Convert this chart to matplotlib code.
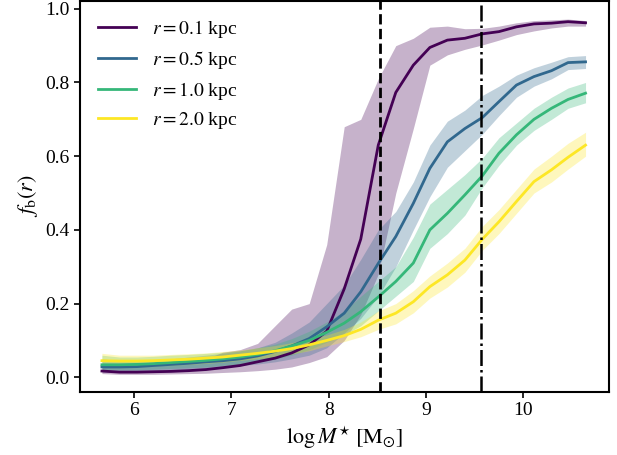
import numpy as np
import matplotlib
matplotlib.use('Agg')
import matplotlib.pyplot as plt

plt.rcParams['font.family'] = 'serif'
plt.rcParams['font.serif'] = ['Liberation Serif', 'DejaVu Serif']
plt.rcParams['mathtext.fontset'] = 'stix'

# bin centres in log stellar mass
log_mstar = [5.67, 5.85, 6.03, 6.20, 6.38, 6.56, 6.74, 6.91, 7.09, 7.27,
             7.45, 7.62, 7.80, 7.98, 8.16, 8.33, 8.51, 8.69, 8.87, 9.04,
             9.22, 9.40, 9.58, 9.75, 9.93, 10.11, 10.29, 10.46, 10.64]

radii = ['0.1', '0.5', '1.0', '2.0']

fb_01 = [0.017, 0.014, 0.014, 0.015, 0.016, 0.018, 0.021, 0.026, 0.032, 0.042,
         0.052, 0.066, 0.088, 0.125, 0.24, 0.375, 0.63, 0.773, 0.847, 0.895,
         0.915, 0.92, 0.932, 0.938, 0.951, 0.959, 0.961, 0.965, 0.962]
fb_01_lo = [0.010, 0.008, 0.008, 0.008, 0.009, 0.010, 0.011, 0.013, 0.015, 0.018,
            0.022, 0.028, 0.040, 0.056, 0.10, 0.17, 0.28, 0.50, 0.675, 0.847,
            0.875, 0.89, 0.902, 0.915, 0.93, 0.94, 0.948, 0.953, 0.953]
fb_01_hi = [0.035, 0.03, 0.03, 0.032, 0.035, 0.04, 0.05, 0.068, 0.075, 0.092,
            0.14, 0.185, 0.20, 0.36, 0.68, 0.70, 0.81, 0.90, 0.92, 0.95,
            0.953, 0.946, 0.947, 0.953, 0.962, 0.968, 0.97, 0.972, 0.968]

fb_05 = [0.028, 0.028, 0.029, 0.032, 0.035, 0.038, 0.042, 0.045, 0.05, 0.058,
         0.07, 0.085, 0.105, 0.137, 0.174, 0.232, 0.309, 0.382, 0.472, 0.567,
         0.639, 0.675, 0.705, 0.748, 0.793, 0.816, 0.832, 0.854, 0.856]
fb_05_lo = [0.015, 0.015, 0.016, 0.018, 0.02, 0.022, 0.025, 0.028, 0.032, 0.036,
            0.042, 0.05, 0.06, 0.08, 0.12, 0.16, 0.22, 0.30, 0.40, 0.49,
            0.57, 0.615, 0.66, 0.71, 0.76, 0.79, 0.81, 0.835, 0.838]
fb_05_hi = [0.05, 0.045, 0.045, 0.048, 0.05, 0.055, 0.06, 0.065, 0.072, 0.08,
            0.095, 0.12, 0.15, 0.2, 0.25, 0.32, 0.40, 0.45, 0.53, 0.63,
            0.695, 0.725, 0.765, 0.79, 0.82, 0.84, 0.855, 0.87, 0.873]

fb_10 = [0.034, 0.034, 0.035, 0.037, 0.04, 0.043, 0.046, 0.05, 0.055, 0.062,
         0.072, 0.085, 0.10, 0.122, 0.147, 0.178, 0.218, 0.26, 0.31, 0.40,
         0.445, 0.495, 0.547, 0.608, 0.658, 0.70, 0.73, 0.754, 0.771]
fb_10_lo = [0.02, 0.02, 0.02, 0.022, 0.024, 0.026, 0.028, 0.032, 0.036, 0.042,
            0.05, 0.06, 0.075, 0.095, 0.115, 0.14, 0.18, 0.22, 0.26, 0.35,
            0.39, 0.44, 0.515, 0.575, 0.63, 0.67, 0.70, 0.73, 0.745]
fb_10_hi = [0.06, 0.055, 0.055, 0.057, 0.06, 0.062, 0.065, 0.068, 0.072, 0.08,
            0.09, 0.105, 0.125, 0.15, 0.18, 0.22, 0.26, 0.30, 0.38, 0.47,
            0.51, 0.55, 0.595, 0.65, 0.69, 0.73, 0.76, 0.785, 0.80]

fb_20 = [0.045, 0.044, 0.044, 0.045, 0.047, 0.049, 0.052, 0.055, 0.06, 0.065,
         0.071, 0.078, 0.088, 0.10, 0.113, 0.13, 0.155, 0.174, 0.205, 0.246,
         0.278, 0.318, 0.375, 0.422, 0.477, 0.531, 0.563, 0.597, 0.630]
fb_20_lo = [0.03, 0.03, 0.03, 0.031, 0.033, 0.035, 0.038, 0.041, 0.046, 0.05,
            0.056, 0.063, 0.072, 0.085, 0.097, 0.11, 0.13, 0.145, 0.175, 0.215,
            0.245, 0.285, 0.345, 0.39, 0.445, 0.50, 0.53, 0.565, 0.60]
fb_20_hi = [0.065, 0.06, 0.06, 0.06, 0.062, 0.064, 0.066, 0.07, 0.074, 0.08,
            0.086, 0.094, 0.104, 0.115, 0.13, 0.15, 0.18, 0.20, 0.235, 0.275,
            0.31, 0.35, 0.41, 0.455, 0.51, 0.565, 0.60, 0.635, 0.665]

medians = [fb_01, fb_05, fb_10, fb_20]
lowers = [fb_01_lo, fb_05_lo, fb_10_lo, fb_20_lo]
uppers = [fb_01_hi, fb_05_hi, fb_10_hi, fb_20_hi]

MSTAR_DASHED = 8.53
MSTAR_DASHDOT = 9.57

fig = plt.figure(figsize=(6.17, 4.55), dpi=100)
ax = fig.add_axes([0.1297, 0.1392, 0.8578, 0.8597])

colors = plt.cm.viridis(np.linspace(0, 1, len(radii)))
for r, med, lo, hi, c in zip(radii, medians, lowers, uppers, colors):
    ax.plot(log_mstar, med, color=c, lw=2, label=rf'$r = {r}$ kpc')
    ax.fill_between(log_mstar, lo, hi, color=c, alpha=0.3, lw=0)

ax.axvline(MSTAR_DASHED, color='k', ls='--', lw=2)
ax.axvline(MSTAR_DASHDOT, color='k', ls='-.', lw=1.8)

ax.set_xlim(5.445, 10.884)
ax.set_ylim(-0.039, 1.0225)
ax.set_xticks([6, 7, 8, 9, 10])
ax.set_yticks([0.0, 0.2, 0.4, 0.6, 0.8, 1.0])
ax.tick_params(labelsize=14, width=1.2, length=4)
for s in ax.spines.values():
    s.set_linewidth(1.5)

ax.set_xlabel(r'$\log M^{\star}\ [\mathrm{M}_{\odot}]$', fontsize=16)
ax.set_ylabel(r'$f_{\rm b}(r)$', fontsize=16)
ax.legend(loc='upper left', frameon=False, fontsize=14, labelspacing=0.45)

fig.savefig('out.png', dpi=100)
